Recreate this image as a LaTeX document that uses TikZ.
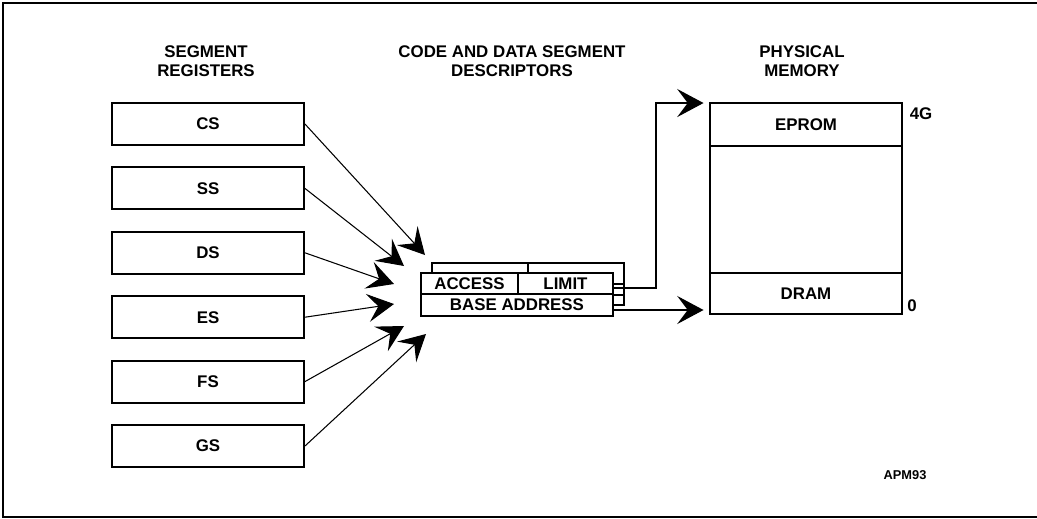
\documentclass[tikz,border=0pt]{standalone}
\usepackage{fontspec}
\setmainfont{Liberation Sans}
\usetikzlibrary{arrows.meta}

\begin{document}
\begin{tikzpicture}[x=0.02cm, y=-0.02cm,
    txt/.style={font=\bfseries\fontsize{9.6}{10.8}\selectfont},
    reg/.style={txt, draw, line width=1.1pt, minimum width=3.84cm, minimum height=0.84cm, inner sep=0pt},
    celda/.style={txt, draw, line width=0.6pt, inner sep=0pt, outer sep=0pt},
    flecha/.style={-{Stealth[length=15pt, width=16pt, inset=6pt]}, line width=0.6pt}]

    \useasboundingbox (0,0) rectangle (1037,518);

    % Marco
    \draw[line width=1.1pt] (1037,3) -- (3,3) -- (3,517) -- (1037,517);

    % Titulos
    \node[txt, align=center] (hreg) at (206,61) {SEGMENT\\REGISTERS};
    \node[txt, align=center] (hdesc) at (512,61) {CODE AND DATA SEGMENT\\DESCRIPTORS};
    \node[txt, align=center] (hmem) at (802,61) {PHYSICAL\\MEMORY};

    % Registros de segmento
    \foreach \r [count=\i from 0] in {CS,SS,DS,ES,FS,GS}
        \node[reg] (\r) at (208,{124+64.4*\i}) {\r};

    % Flechas hacia el descriptor
    \foreach \r/\px/\py in {CS/425/255, SS/404/266, DS/394/284, ES/394/304, FS/404/326, GS/426/334} {
        \coordinate (t\r) at (\px,\py);
        \draw[flecha] (\r.east) -- (t\r);
    }

    % Descriptor de atras
    \draw[line width=0.7pt] (432,263) rectangle (624,305);
    \draw[line width=0.7pt] (432,284) -- (624,284) (432,295) -- (624,295) (528,263) -- (528,284);

    % Descriptor de delante
    \node[celda, fill=white, minimum width=1.94cm, minimum height=0.42cm] (Access) at (469.5,283.5) {ACCESS};
    \node[celda, fill=white, minimum width=1.90cm, minimum height=0.42cm] (Limit) at (565.5,283.5) {LIMIT};
    \node[celda, fill=white, minimum width=3.84cm, minimum height=0.44cm] (Base) at (517,305) {BASE ADDRESS};
    \draw[line width=1.1pt] (Access.north west) rectangle (Base.south east);

    % Memoria fisica
    \node[celda, minimum width=3.84cm, minimum height=0.86cm] (EPROM) at (806,124.5) {EPROM};
    \node[celda, minimum width=3.84cm, minimum height=0.82cm] (DRAM) at (806,293.5) {DRAM};
    \node[draw, line width=1.1pt, minimum width=3.84cm, minimum height=4.22cm, inner sep=0pt, outer sep=0pt] (Mem) at (806,208.5) {};
    \node[txt] (top) at (921,114) {4G};
    \node[txt] (bot) at (912,306) {0};
    \node[font=\bfseries\fontsize{7.3}{9}\selectfont] (apm) at (905,475) {APM93};

    % Flechas hacia la memoria
    \coordinate (limout) at ([yshift=-0.09cm]Limit.east);
    \coordinate (baseout) at ([yshift=-0.1cm]Base.east);
    \draw[flecha, shorten >=0.13cm] (limout) -- ++(43,0) |- (Mem.north west);
    \draw[flecha, shorten >=0.13cm] (baseout) -- (baseout -| Mem.west);
\end{tikzpicture}
\end{document}
